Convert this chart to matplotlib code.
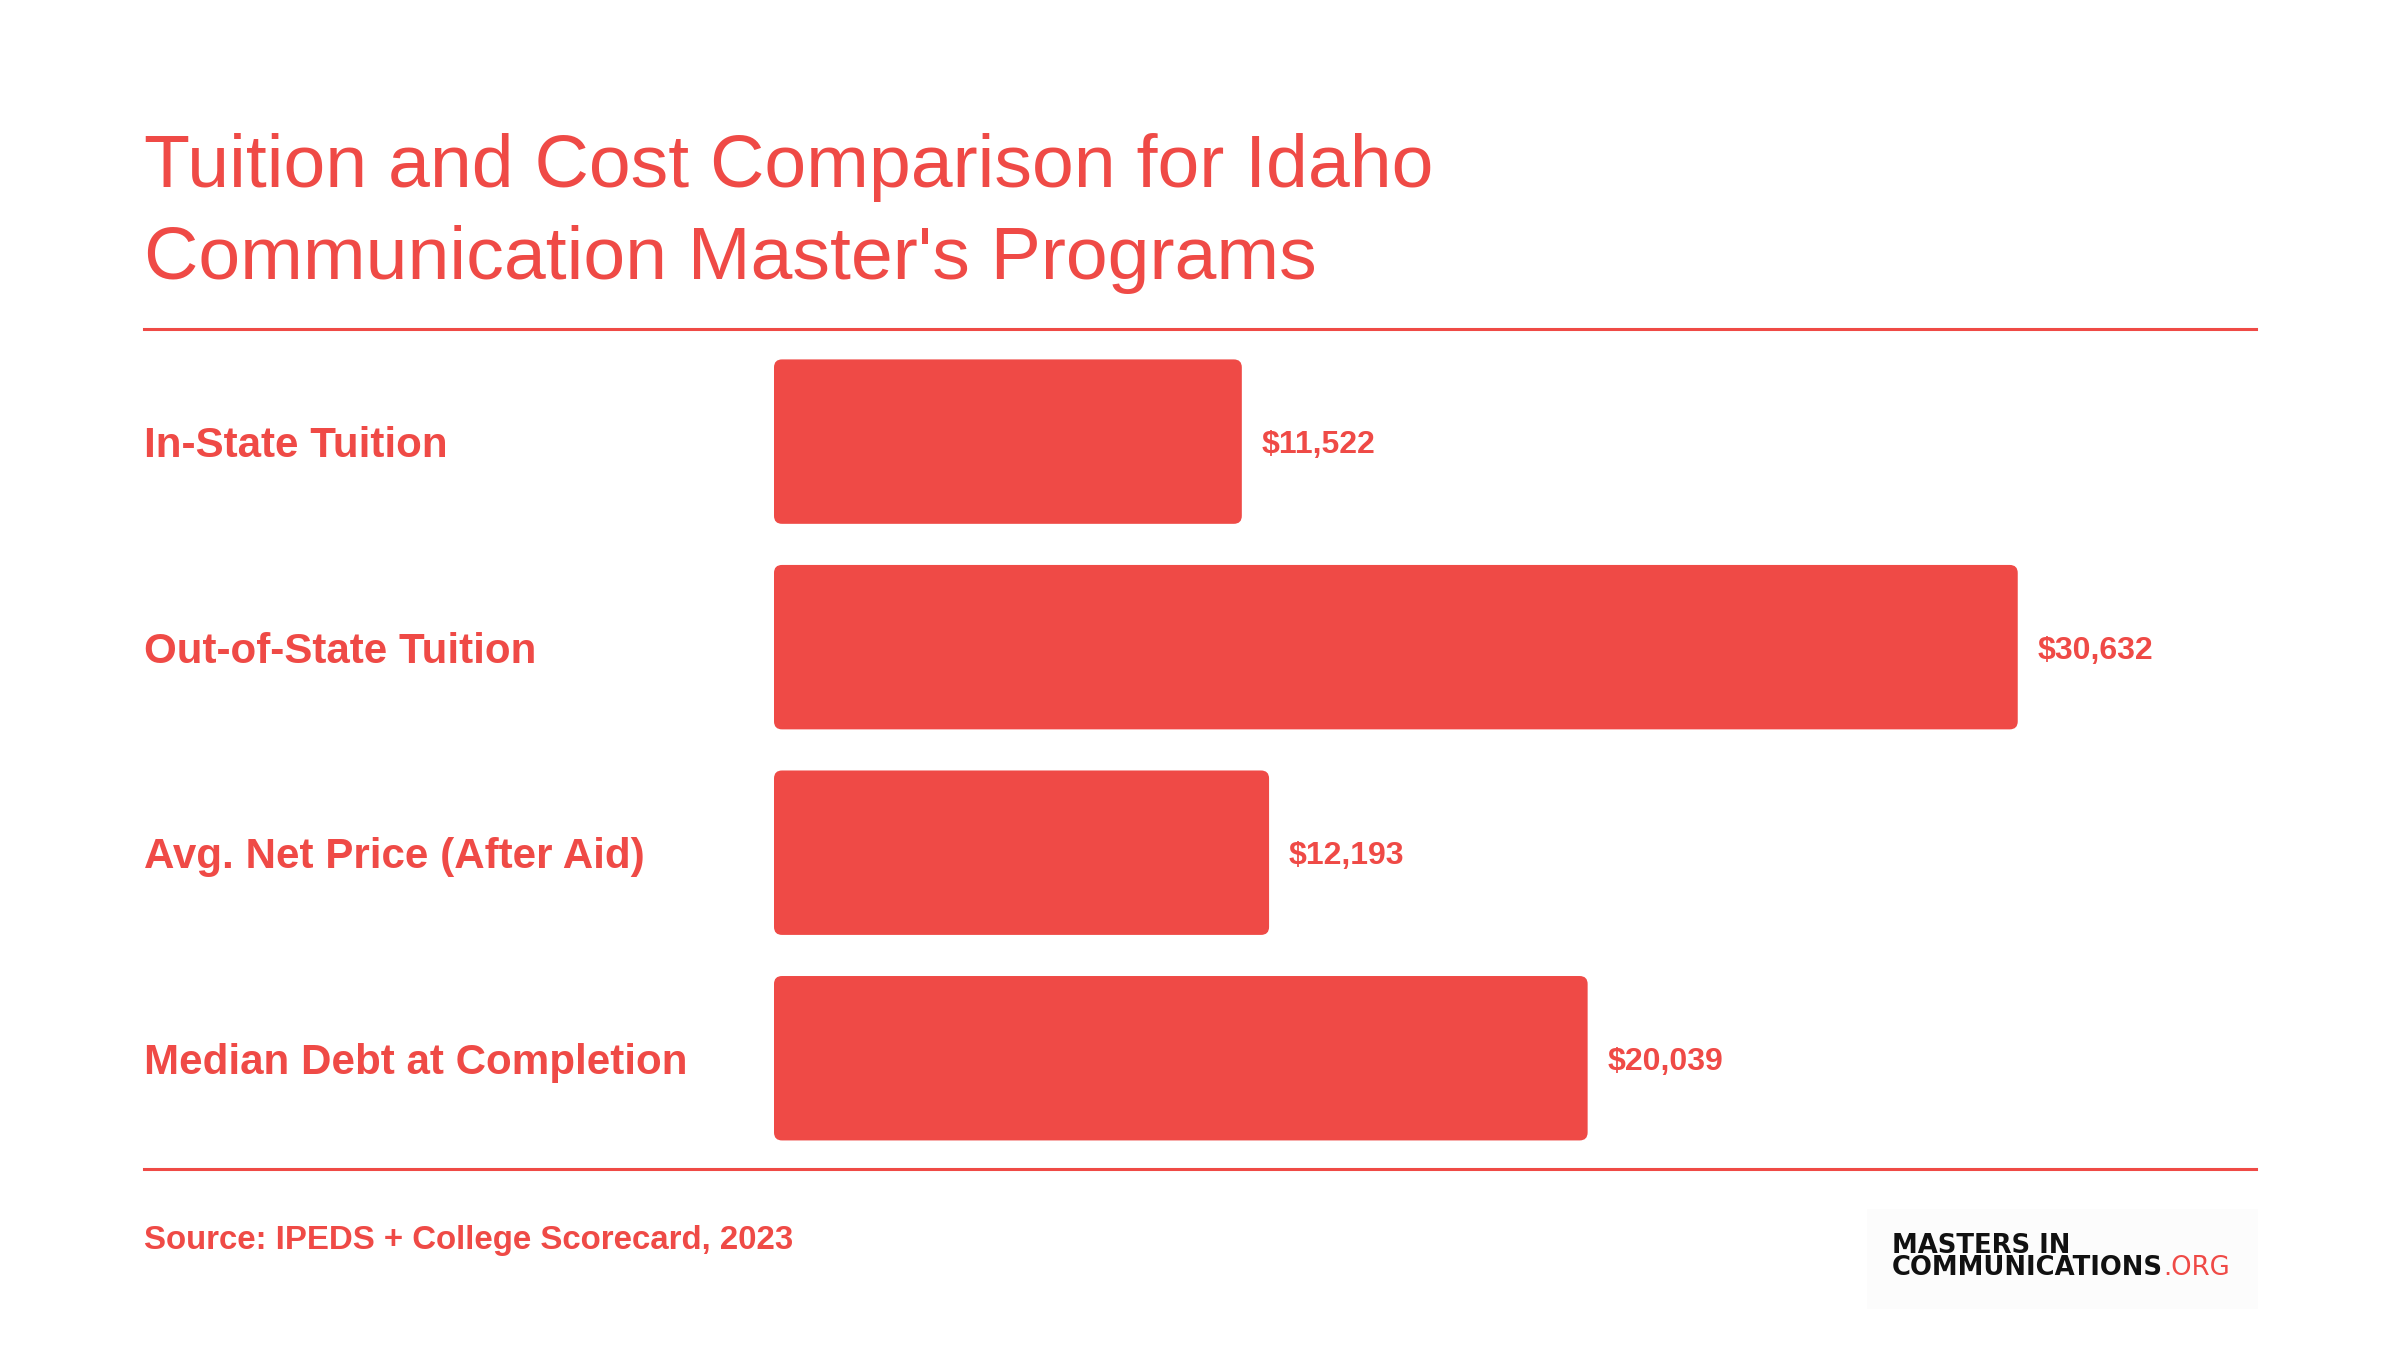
import matplotlib
matplotlib.use("Agg")
from matplotlib import pyplot as plt
from matplotlib.patches import FancyBboxPatch, Rectangle
from matplotlib.transforms import blended_transform_factory

# chart data
categories = ["In-State Tuition", "Out-of-State Tuition", "Avg. Net Price (After Aid)", "Median Debt at Completion"]
values = [11522, 30632, 12193, 20039]
value_labels = ["$11,522", "$30,632", "$12,193", "$20,039"]
title_lines = ["Tuition and Cost Comparison for Idaho", "Communication Master's Programs"]
source_text = "Source: IPEDS + College Scorecard, 2023"

red = "#EF4A46"
plt.rcParams['font.family'] = ['Liberation Sans', 'DejaVu Sans']

fig = plt.figure(figsize=(24, 13.5), dpi=100)
fig.patch.set_facecolor("white")

# title
fig.text(0.06, 1 - 187/1350, title_lines[0], color=red, fontsize=54.2, va="baseline", ha="left")
fig.text(0.06, 1 - 279/1350, title_lines[1], color=red, fontsize=54.2, va="baseline", ha="left")

# rules above and below the bars
fig.add_artist(plt.Line2D([0.06, 0.94], [1 - 329/1350]*2, color=red, lw=2.2))
fig.add_artist(plt.Line2D([0.06, 0.94], [1 - 1169/1350]*2, color=red, lw=2.2))

ax = fig.add_axes([774/2400, 0.14, 1482/2400, 0.609])
ax.set_xlim(0, 36500)
ax.set_ylim(3.5, -0.5)
ax.axis("off")

ypos = list(range(len(categories)))
bars = ax.barh(ypos, values, height=0.8, color=red)

# swap plain bars for rounded ones
p0 = ax.transData.transform((0, 0))
px_x = ax.transData.transform((1, 0))[0] - p0[0]
px_y = abs(ax.transData.transform((0, 1))[1] - p0[1])
radius = 8
rx = radius / px_x
aspect = (radius / px_y) / rx
for b in bars:
    fb = FancyBboxPatch((b.get_x(), b.get_y()), b.get_width(), b.get_height(),
                        boxstyle=f"round,pad=0,rounding_size={rx}",
                        mutation_aspect=aspect, facecolor=red, edgecolor="none")
    ax.add_patch(fb)
    b.set_visible(False)

# category labels on the left
lab_tr = blended_transform_factory(fig.transFigure, ax.transData)
for y, name in zip(ypos, categories):
    ax.text(0.06, y, name, transform=lab_tr, color=red, fontsize=30.3,
            fontweight="bold", va="center_baseline", ha="left")

# value labels
for y, v, lab in zip(ypos, values, value_labels):
    ax.annotate(lab, (v, y), xytext=(14.4, 0), textcoords="offset points",
                color=red, fontsize=23, fontweight="bold", va="center_baseline", ha="left")

# source
fig.text(0.06, 1 - 1240/1350, source_text, color=red, fontsize=23.8, fontweight="bold",
         va="center", ha="left")

# logo box
fig.add_artist(Rectangle((1867/2400, 1 - 1309/1350), 391/2400, 100/1350,
                         transform=fig.transFigure, facecolor="#FCFCFC", edgecolor="none"))
fig.text(1892/2400, 1 - 1246/1350, "MASTERS IN", color="#111111", fontsize=18.6,
         fontweight="bold", family="DejaVu Sans", va="center", ha="left")
t2 = fig.text(1892/2400, 1 - 1268/1350, "COMMUNICATIONS", color="#111111", fontsize=18.6,
              fontweight="bold", family="DejaVu Sans", va="center", ha="left")
fig.canvas.draw()
bb = t2.get_window_extent()
fig.text(bb.x1 / 2400, 1 - 1268/1350, ".ORG", color=red, fontsize=18.6,
         family="DejaVu Sans", va="center", ha="left")

fig.savefig("out.png", dpi=100)
